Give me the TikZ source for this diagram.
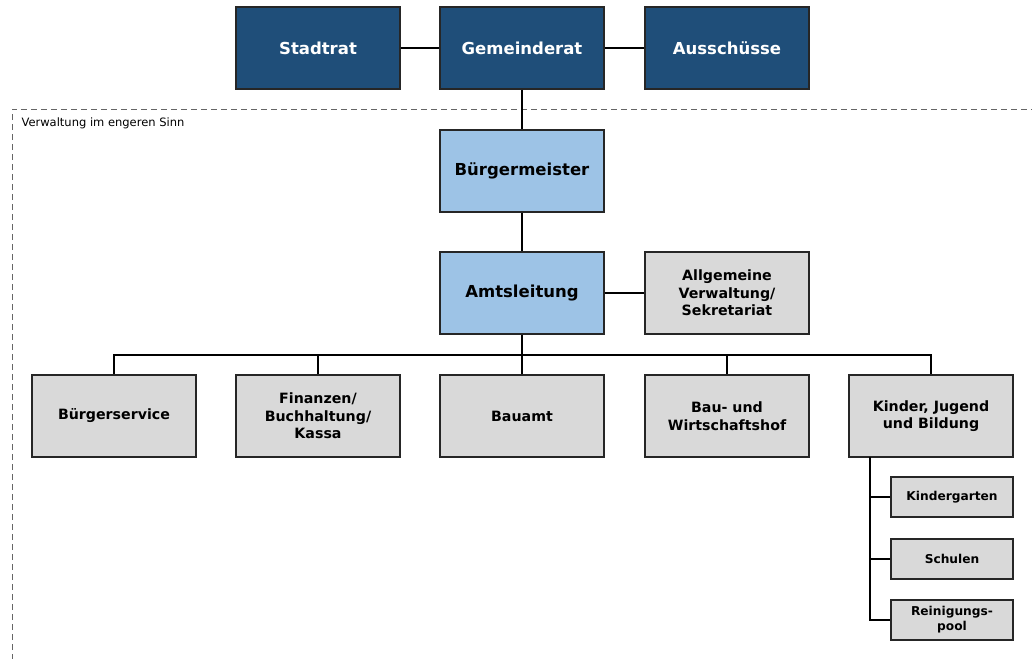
\documentclass[tikz,border=0pt]{standalone}
\usepackage{fontspec}
\setmainfont{DejaVu Sans}
\usepackage{tikz}
\usetikzlibrary{positioning}
\usepackage{xcolor}
\definecolor{ratblau}{HTML}{1F4E79}
\definecolor{hellblau}{HTML}{9DC3E6}
\definecolor{amtgrau}{HTML}{D9D9D9}
\tikzset{
  ratbox/.style={draw=black!85, line width=1.3pt, fill=ratblau, text=white, font=\bfseries\fontsize{16.5}{19}\selectfont,
    minimum width=164pt, minimum height=82pt, align=center, inner sep=0pt},
  leitbox/.style={ratbox, fill=hellblau, text=black},
  amtbox/.style={ratbox, fill=amtgrau, text=black, font=\bfseries\fontsize{14.2}{17.5}\selectfont},
  subbox/.style={amtbox, minimum width=122pt, minimum height=40pt, font=\bfseries\fontsize{12.2}{15}\selectfont},
  verb/.style={line width=2.8pt, black}
}

\begin{document}
\begin{tikzpicture}[x=1pt, y=-1pt]
  \useasboundingbox (0,0) rectangle (1032,658);
  \clip (0,0) rectangle (1032,658);
  \draw[dashed, black!60, line width=0.9pt, dash pattern=on 6pt off 4pt] (12,670) -- (12,109) -- (1040,109);
  \node[anchor=west, font=\fontsize{11.5}{13}\selectfont] (vlabel) at (18,123) {Verwaltung im engeren Sinn};
  % Politik
  \node[ratbox] (stadtrat) at (318,48) {Stadtrat};
  \node[ratbox] (gemrat) at (522,48) {Gemeinderat};
  \node[ratbox] (aussch) at (727,48) {Ausschüsse};
  % Leitung
  \node[leitbox] (bgm) at (522,171) {Bürgermeister};
  \node[leitbox] (amt) at (522,293) {Amtsleitung};
  \node[amtbox] (allg) at (727,293) {Allgemeine\\Verwaltung/\\Sekretariat};
  % Aemter
  \node[amtbox] (bserv) at (114,416) {Bürgerservice};
  \node[amtbox] (fin) at (318,416) {Finanzen/\\Buchhaltung/\\Kassa};
  \node[amtbox] (bau) at (522,416) {Bauamt};
  \node[amtbox] (bwh) at (727,416) {Bau- und\\Wirtschaftshof};
  \node[amtbox] (kinder) at (931,416) {Kinder, Jugend\\und Bildung};
  \node[subbox] (kgarten) at (952,497) {Kindergarten};
  \node[subbox] (schulen) at (952,559) {Schulen};
  \node[subbox] (rpool) at (952,620) {Reinigungs-\\pool};
  \coordinate (bus) at (522,355);
  \coordinate (stem) at (870,457);
  \draw[verb] (stadtrat) -- (gemrat);
  \draw[verb] (gemrat) -- (aussch);
  \draw[verb] (gemrat) -- (bgm);
  \draw[verb] (bgm) -- (amt);
  \draw[verb] (amt) -- (allg);
  \draw[verb] (amt) -- (bus);
  \draw[verb] (bserv.north) |- (bus) -| (kinder.north);
  \foreach \n in {fin,bau,bwh}
    \draw[verb] (\n.north) -- (\n.north |- bus);
  \draw[verb] (stem) |- (rpool.west);
  \foreach \n in {kgarten,schulen}
    \draw[verb] (\n.west) -- (\n.west -| stem);
\end{tikzpicture}
\end{document}
